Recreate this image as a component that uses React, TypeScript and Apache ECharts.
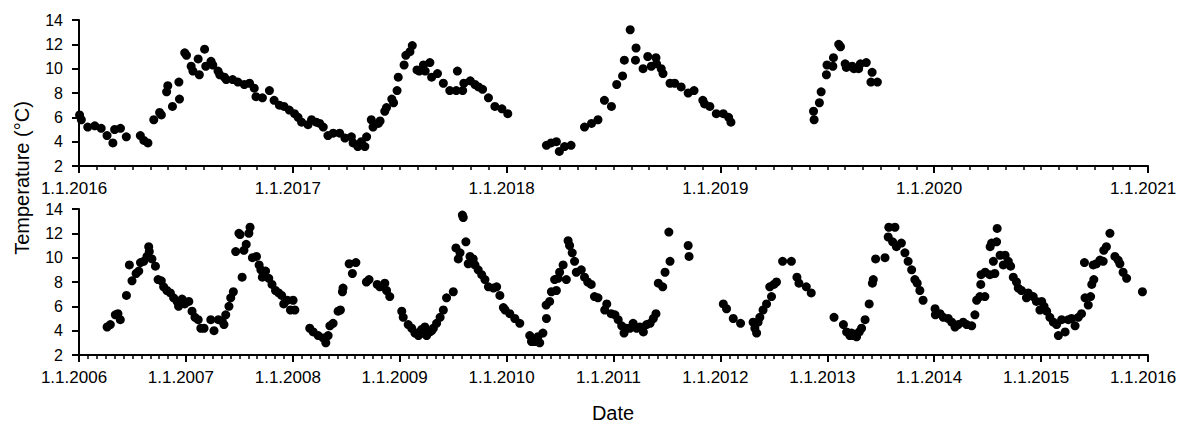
import React, { useEffect, useRef } from "react";
import * as echarts from "echarts";

// Water temperature readings, 2016 – 2020 (upper panel)
const readings2016to2020: [string, number][] = [
  ["2016-01-02", 6.2], ["2016-01-05", 5.8], ["2016-01-16", 5.2], ["2016-01-28", 5.3], ["2016-02-08", 5.1],
  ["2016-02-18", 4.5], ["2016-02-28", 3.9], ["2016-03-02", 5.0], ["2016-03-12", 5.1], ["2016-03-22", 4.4],
  ["2016-04-15", 4.5], ["2016-04-21", 4.1], ["2016-04-28", 3.9], ["2016-05-08", 5.8], ["2016-05-18", 6.4],
  ["2016-05-21", 6.2], ["2016-05-30", 8.1], ["2016-06-01", 8.6], ["2016-06-09", 6.9], ["2016-06-20", 8.9],
  ["2016-06-21", 7.5], ["2016-06-30", 11.3], ["2016-07-03", 11.1], ["2016-07-11", 10.2], ["2016-07-14", 9.8],
  ["2016-07-23", 10.8], ["2016-07-25", 9.5], ["2016-08-03", 11.6], ["2016-08-05", 10.2], ["2016-08-14", 10.6],
  ["2016-08-17", 10.3], ["2016-08-26", 9.8], ["2016-08-29", 9.5], ["2016-09-06", 9.3], ["2016-09-09", 9.1],
  ["2016-09-20", 9.1], ["2016-09-29", 8.9], ["2016-10-10", 8.7], ["2016-10-19", 8.8], ["2016-10-27", 8.4],
  ["2016-10-30", 7.7], ["2016-11-10", 7.6], ["2016-11-22", 8.2], ["2016-11-30", 7.4], ["2016-12-09", 7.0],
  ["2016-12-17", 6.9], ["2016-12-26", 6.6],
  ["2017-01-04", 6.3], ["2017-01-10", 6.0], ["2017-01-16", 5.6], ["2017-01-27", 5.4], ["2017-02-02", 5.8],
  ["2017-02-10", 5.6], ["2017-02-16", 5.5], ["2017-02-22", 5.2], ["2017-03-02", 4.5], ["2017-03-11", 4.7],
  ["2017-03-22", 4.7], ["2017-03-31", 4.3], ["2017-04-11", 4.4], ["2017-04-14", 3.9], ["2017-04-22", 3.6],
  ["2017-04-28", 4.0], ["2017-05-04", 3.6], ["2017-05-07", 4.4], ["2017-05-15", 5.8], ["2017-05-18", 5.2],
  ["2017-05-27", 5.5], ["2017-05-30", 5.7], ["2017-06-07", 6.5], ["2017-06-10", 6.8], ["2017-06-19", 7.5],
  ["2017-06-22", 7.2], ["2017-06-28", 8.2], ["2017-06-30", 9.3], ["2017-07-10", 10.3], ["2017-07-13", 11.1],
  ["2017-07-20", 11.4], ["2017-07-24", 11.9], ["2017-08-01", 9.9], ["2017-08-05", 9.8], ["2017-08-12", 10.3],
  ["2017-08-15", 9.8], ["2017-08-23", 10.5], ["2017-08-26", 9.3], ["2017-09-05", 9.6], ["2017-09-15", 8.8],
  ["2017-09-26", 8.2], ["2017-10-07", 8.2], ["2017-10-09", 9.8], ["2017-10-18", 8.2], ["2017-10-20", 8.8],
  ["2017-10-31", 9.0], ["2017-11-08", 8.7], ["2017-11-14", 8.5], ["2017-11-21", 8.3], ["2017-12-01", 7.6],
  ["2017-12-12", 6.9], ["2017-12-24", 6.7],
  ["2018-01-03", 6.3], ["2018-03-10", 3.7], ["2018-03-18", 3.9], ["2018-03-27", 4.0], ["2018-04-01", 3.2],
  ["2018-04-10", 3.6], ["2018-04-21", 3.7], ["2018-05-14", 5.2], ["2018-05-26", 5.5], ["2018-06-06", 5.8],
  ["2018-06-17", 7.4], ["2018-06-29", 6.9], ["2018-07-08", 8.7], ["2018-07-18", 9.4], ["2018-07-21", 10.7],
  ["2018-07-31", 13.2], ["2018-08-09", 10.7], ["2018-08-10", 11.7], ["2018-08-22", 10.0], ["2018-08-30", 11.0],
  ["2018-09-05", 10.2], ["2018-09-13", 10.9], ["2018-09-14", 10.4], ["2018-09-22", 10.0], ["2018-09-25", 9.6],
  ["2018-10-07", 8.8], ["2018-10-15", 8.8], ["2018-10-26", 8.5], ["2018-11-07", 8.0], ["2018-11-17", 8.2],
  ["2018-12-02", 7.4], ["2018-12-05", 7.1], ["2018-12-14", 6.9], ["2018-12-25", 6.3],
  ["2019-01-06", 6.3], ["2019-01-15", 6.0], ["2019-01-19", 5.6], ["2019-06-09", 6.5], ["2019-06-10", 5.8],
  ["2019-06-19", 7.2], ["2019-06-22", 8.1], ["2019-07-01", 9.5], ["2019-07-02", 10.3], ["2019-07-12", 10.2],
  ["2019-07-13", 10.9], ["2019-07-22", 12.0], ["2019-07-25", 11.8], ["2019-08-02", 10.4], ["2019-08-04", 10.1],
  ["2019-08-14", 10.2], ["2019-08-17", 10.0], ["2019-08-25", 10.0], ["2019-08-28", 10.4], ["2019-09-07", 10.5],
  ["2019-09-15", 8.9], ["2019-09-17", 9.7], ["2019-09-26", 8.9],
];

// Water temperature readings, 2006 – 2015 (lower panel)
const readings2006to2015: [string, number][] = [
  ["2006-04-07", 4.3], ["2006-04-18", 4.5], ["2006-05-05", 5.3], ["2006-05-14", 5.4], ["2006-05-22", 4.9],
  ["2006-06-12", 6.9], ["2006-06-22", 9.4], ["2006-07-01", 8.1], ["2006-07-15", 8.7], ["2006-07-24", 8.9],
  ["2006-07-30", 9.6], ["2006-08-10", 9.7], ["2006-08-21", 10.1], ["2006-08-27", 10.9], ["2006-08-29", 10.5],
  ["2006-09-07", 9.9], ["2006-09-19", 9.3], ["2006-09-28", 8.2], ["2006-10-09", 8.1], ["2006-10-17", 7.6],
  ["2006-10-28", 7.3], ["2006-11-09", 7.1], ["2006-11-20", 6.7], ["2006-12-02", 6.4], ["2006-12-07", 6.0],
  ["2006-12-19", 6.6], ["2006-12-28", 6.2],
  ["2007-01-11", 6.4], ["2007-01-22", 5.6], ["2007-02-01", 5.1], ["2007-02-12", 4.9], ["2007-02-21", 4.2],
  ["2007-03-04", 4.2], ["2007-03-27", 4.9], ["2007-04-07", 4.0], ["2007-04-22", 4.9], ["2007-05-05", 4.8],
  ["2007-05-11", 4.5], ["2007-05-17", 5.3], ["2007-05-28", 6.0], ["2007-06-03", 6.7], ["2007-06-12", 7.2],
  ["2007-06-20", 10.5], ["2007-07-01", 12.0], ["2007-07-05", 11.9], ["2007-07-12", 8.4], ["2007-07-18", 10.6],
  ["2007-07-26", 11.1], ["2007-08-04", 12.0], ["2007-08-08", 12.5], ["2007-08-16", 10.0], ["2007-08-30", 10.1],
  ["2007-09-08", 9.4], ["2007-09-14", 9.0], ["2007-09-19", 8.4], ["2007-09-30", 8.9], ["2007-10-11", 8.3],
  ["2007-10-22", 7.8], ["2007-11-03", 7.3], ["2007-11-14", 7.1], ["2007-11-24", 6.9], ["2007-12-01", 6.2],
  ["2007-12-13", 6.5], ["2007-12-24", 5.7],
  ["2008-01-02", 6.5], ["2008-01-08", 5.7], ["2008-02-28", 4.2], ["2008-03-11", 3.9], ["2008-03-28", 3.6],
  ["2008-04-14", 3.4], ["2008-04-23", 3.0], ["2008-05-01", 3.6], ["2008-05-07", 4.4], ["2008-05-18", 4.6],
  ["2008-06-04", 5.6], ["2008-06-12", 5.7], ["2008-06-19", 7.2], ["2008-06-21", 7.5], ["2008-07-12", 9.5],
  ["2008-07-23", 8.7], ["2008-08-04", 9.6], ["2008-09-09", 8.0], ["2008-09-18", 8.2], ["2008-10-16", 7.8],
  ["2008-10-25", 7.6], ["2008-11-11", 7.9], ["2008-11-17", 7.3], ["2008-11-28", 6.8],
  ["2009-01-08", 5.6], ["2009-01-13", 5.1], ["2009-01-30", 4.5], ["2009-02-11", 4.2], ["2009-02-22", 3.8],
  ["2009-03-06", 3.6], ["2009-03-10", 3.9], ["2009-03-17", 4.1], ["2009-03-22", 3.8], ["2009-03-28", 4.3],
  ["2009-04-03", 3.6], ["2009-04-08", 4.0], ["2009-04-14", 3.9], ["2009-04-20", 4.0], ["2009-04-26", 4.2],
  ["2009-05-07", 4.6], ["2009-05-19", 5.1], ["2009-05-30", 5.7], ["2009-06-10", 6.7], ["2009-07-03", 7.2],
  ["2009-07-12", 10.8], ["2009-07-20", 9.9], ["2009-07-26", 10.4], ["2009-08-03", 13.5], ["2009-08-06", 13.3],
  ["2009-08-15", 11.3], ["2009-08-23", 9.5], ["2009-08-29", 10.1], ["2009-09-09", 9.9], ["2009-09-15", 9.4],
  ["2009-09-26", 9.0], ["2009-10-08", 8.6], ["2009-10-19", 8.2], ["2009-10-31", 7.6], ["2009-11-17", 7.5],
  ["2009-11-28", 7.6], ["2009-12-09", 6.9], ["2009-12-21", 5.9], ["2009-12-27", 5.7],
  ["2010-01-12", 5.4], ["2010-01-29", 5.0], ["2010-02-15", 4.6], ["2010-03-21", 3.6], ["2010-03-27", 3.1],
  ["2010-04-07", 3.1], ["2010-04-18", 3.5], ["2010-04-24", 3.0], ["2010-05-05", 3.8], ["2010-05-16", 6.1],
  ["2010-05-17", 5.0], ["2010-05-28", 6.4], ["2010-06-03", 7.2], ["2010-06-14", 8.2], ["2010-06-20", 7.3],
  ["2010-06-26", 8.3], ["2010-07-01", 8.8], ["2010-07-13", 9.4], ["2010-07-24", 8.2], ["2010-07-30", 11.4],
  ["2010-08-04", 11.0], ["2010-08-13", 10.4], ["2010-08-21", 9.7], ["2010-08-27", 8.8], ["2010-09-13", 9.0],
  ["2010-09-24", 8.4], ["2010-10-05", 8.0], ["2010-10-17", 7.8], ["2010-10-28", 6.8], ["2010-11-09", 6.7],
  ["2010-12-02", 5.7], ["2010-12-09", 6.2], ["2010-12-24", 5.4],
  ["2011-01-06", 5.3], ["2011-01-17", 4.9], ["2011-01-29", 4.4], ["2011-02-06", 3.8], ["2011-02-15", 4.2],
  ["2011-02-26", 4.2], ["2011-03-09", 4.6], ["2011-03-21", 4.2], ["2011-04-01", 4.3], ["2011-04-13", 3.9],
  ["2011-04-24", 4.5], ["2011-05-06", 4.6], ["2011-05-17", 5.0], ["2011-05-26", 5.4], ["2011-06-03", 7.9],
  ["2011-06-18", 7.6], ["2011-06-26", 8.8], ["2011-07-09", 12.1], ["2011-07-13", 9.7], ["2011-09-13", 11.0],
  ["2011-09-16", 10.1],
  ["2012-01-11", 6.2], ["2012-01-22", 5.8], ["2012-02-14", 5.0], ["2012-03-10", 4.6], ["2012-04-22", 4.7],
  ["2012-04-28", 4.2], ["2012-05-04", 3.8], ["2012-05-09", 4.7], ["2012-05-15", 5.1], ["2012-05-26", 5.7],
  ["2012-06-07", 6.2], ["2012-06-18", 7.6], ["2012-06-24", 6.8], ["2012-07-02", 7.8], ["2012-07-11", 8.0],
  ["2012-08-01", 9.7], ["2012-08-31", 9.7], ["2012-09-19", 8.4], ["2012-09-26", 7.9], ["2012-10-21", 7.6],
  ["2012-11-07", 7.1],
  ["2013-01-24", 5.1], ["2013-02-25", 4.5], ["2013-03-08", 3.9], ["2013-03-19", 3.6], ["2013-03-25", 3.8],
  ["2013-03-31", 3.6], ["2013-04-05", 3.7], ["2013-04-11", 3.5], ["2013-04-20", 3.9], ["2013-04-28", 4.2],
  ["2013-05-10", 4.9], ["2013-05-24", 6.2], ["2013-06-04", 7.9], ["2013-06-07", 8.2], ["2013-06-15", 9.9],
  ["2013-07-17", 10.0], ["2013-07-28", 11.7], ["2013-07-30", 12.5], ["2013-08-12", 11.3], ["2013-08-20", 12.5],
  ["2013-08-25", 10.9], ["2013-09-11", 11.2], ["2013-09-23", 10.4], ["2013-10-04", 9.7], ["2013-10-16", 9.0],
  ["2013-10-27", 8.2], ["2013-11-04", 7.9], ["2013-11-13", 7.3], ["2013-11-24", 6.5],
  ["2014-01-04", 5.8], ["2014-01-05", 5.3], ["2014-01-21", 5.4], ["2014-02-01", 5.1], ["2014-02-18", 5.0],
  ["2014-03-02", 4.7], ["2014-03-13", 4.3], ["2014-03-24", 4.5], ["2014-04-10", 4.7], ["2014-04-22", 4.5],
  ["2014-05-09", 4.4], ["2014-05-20", 5.3], ["2014-05-26", 6.5], ["2014-06-06", 6.8], ["2014-06-09", 7.8],
  ["2014-06-10", 8.6], ["2014-06-23", 6.8], ["2014-06-24", 8.8], ["2014-07-10", 8.6], ["2014-07-11", 10.9],
  ["2014-07-16", 11.2], ["2014-07-22", 9.7], ["2014-07-27", 8.7], ["2014-08-02", 11.3], ["2014-08-04", 12.4],
  ["2014-08-14", 10.2], ["2014-08-25", 9.4], ["2014-08-31", 10.2], ["2014-09-11", 9.7], ["2014-09-19", 9.3],
  ["2014-09-28", 8.4], ["2014-10-09", 8.0], ["2014-10-15", 7.5], ["2014-10-26", 7.3], ["2014-11-12", 6.7],
  ["2014-11-18", 7.1], ["2014-12-05", 6.8], ["2014-12-16", 6.4], ["2014-12-28", 5.7],
  ["2015-01-03", 6.4], ["2015-01-11", 6.0], ["2015-01-20", 5.6], ["2015-01-31", 5.1], ["2015-02-12", 4.7],
  ["2015-02-23", 4.5], ["2015-03-01", 3.6], ["2015-03-12", 4.9], ["2015-03-24", 3.9], ["2015-04-04", 4.9],
  ["2015-04-15", 5.0], ["2015-04-27", 4.4], ["2015-05-08", 5.1], ["2015-05-19", 5.4], ["2015-05-29", 9.6],
  ["2015-05-31", 6.7], ["2015-06-11", 6.1], ["2015-06-19", 6.8], ["2015-06-23", 7.8], ["2015-06-28", 9.4],
  ["2015-06-30", 8.2], ["2015-07-09", 9.5], ["2015-07-21", 9.8], ["2015-08-01", 9.7], ["2015-08-03", 10.6],
  ["2015-08-12", 10.9], ["2015-08-24", 12.0], ["2015-09-10", 10.1], ["2015-09-21", 9.8], ["2015-09-27", 9.5],
  ["2015-10-08", 8.8], ["2015-10-20", 8.3], ["2015-12-13", 7.2],
];

// Axis extents (years) and temperature ticks
const upperYears = [2016, 2021];
const lowerYears = [2006, 2016];
const tempTicks = { min: 2, max: 14, step: 2 };

const FONT = "'Liberation Sans', Arial, Helvetica, sans-serif";

// Calendar date -> fractional year, so the value axis can place it
function toFractionalYear(iso: string): number {
  const [y, m, d] = iso.split("-").map(Number);
  const start = Date.UTC(y, 0, 1);
  const end = Date.UTC(y + 1, 0, 1);
  return y + (Date.UTC(y, m - 1, d) - start) / (end - start);
}

function buildOption() {
  const black = "#000";
  const xAxisBase = {
    type: "value" as const,
    interval: 1,
    axisLine: { show: true, onZero: false, lineStyle: { color: black, width: 2 } },
    axisTick: { show: true, length: 7, lineStyle: { color: black, width: 2 } },
    minorTick: { show: true, splitNumber: 12, length: 4, lineStyle: { color: black, width: 1.5 } },
    splitLine: { show: false },
    minorSplitLine: { show: false },
    axisLabel: {
      formatter: (v: number) => `1.1.${v}`,
      color: black,
      fontSize: 17,
      fontFamily: FONT,
      margin: 14,
      padding: [0, 10, 0, 0],
    },
  };
  const yAxisBase = {
    type: "value" as const,
    min: tempTicks.min,
    max: tempTicks.max,
    interval: tempTicks.step,
    axisLine: { show: true, onZero: false, lineStyle: { color: black, width: 2 } },
    axisTick: { show: true, length: 7, lineStyle: { color: black, width: 2 } },
    splitLine: { show: false },
    axisLabel: { color: black, fontSize: 16, fontFamily: FONT, margin: 16 },
  };
  const scatterBase = {
    type: "scatter" as const,
    symbol: "circle",
    symbolSize: 9,
    itemStyle: { color: black, opacity: 1 },
    emphasis: { disabled: true },
  };

  return {
    animation: false,
    grid: [
      { left: 79, top: 20, width: 1069, height: 146 },
      { left: 79, top: 209, width: 1069, height: 146 },
    ],
    xAxis: [
      { ...xAxisBase, gridIndex: 0, min: upperYears[0], max: upperYears[1] },
      { ...xAxisBase, gridIndex: 1, min: lowerYears[0], max: lowerYears[1] },
    ],
    yAxis: [
      { ...yAxisBase, gridIndex: 0 },
      { ...yAxisBase, gridIndex: 1 },
    ],
    series: [
      {
        ...scatterBase,
        xAxisIndex: 0,
        yAxisIndex: 0,
        data: readings2016to2020.map(([d, t]) => [toFractionalYear(d), t]),
      },
      {
        ...scatterBase,
        xAxisIndex: 1,
        yAxisIndex: 1,
        data: readings2006to2015.map(([d, t]) => [toFractionalYear(d), t]),
      },
    ],
    graphic: [
      {
        type: "text",
        x: 22,
        y: 178,
        rotation: Math.PI / 2,
        style: {
          text: "Temperature (°C)",
          fill: black,
          font: `20px ${FONT}`,
          align: "center",
          verticalAlign: "middle",
        },
      },
      {
        type: "text",
        x: 613,
        y: 413,
        style: {
          text: "Date",
          fill: black,
          font: `20px ${FONT}`,
          align: "center",
          verticalAlign: "middle",
        },
      },
    ],
  };
}

export default function App() {
  const ref = useRef<HTMLDivElement>(null);

  useEffect(() => {
    if (!ref.current) return;
    const chart = echarts.init(ref.current, null, { renderer: "svg" });
    chart.setOption(buildOption() as any);
    return () => chart.dispose();
  }, []);

  return (
    <div
      ref={ref}
      style={{ position: "fixed", left: 0, top: 0, width: 1186, height: 426, background: "#fff" }}
    />
  );
}
